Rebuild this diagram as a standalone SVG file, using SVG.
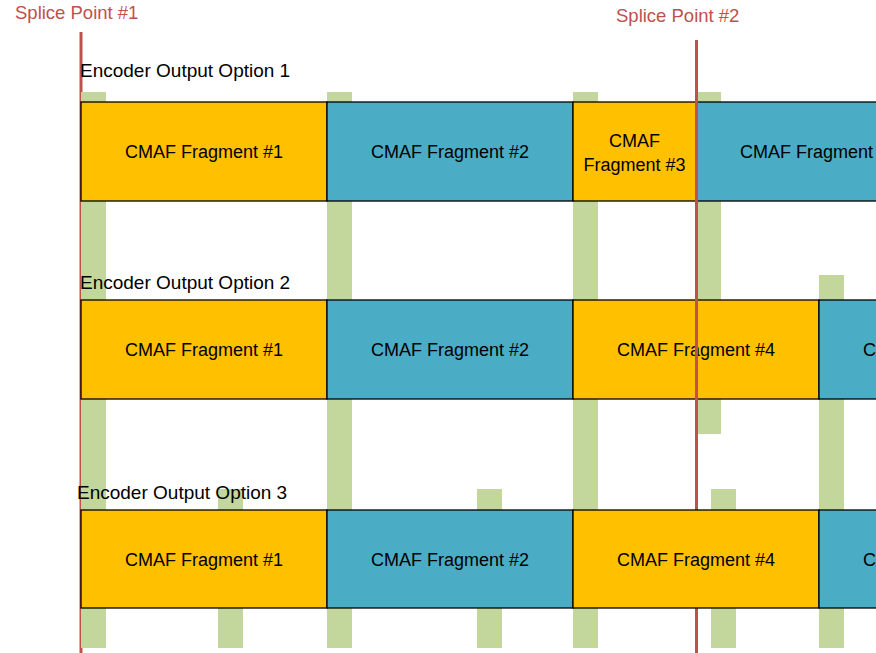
<svg xmlns="http://www.w3.org/2000/svg" width="876" height="653" viewBox="0 0 876 653">
<style>
.bar{fill:#C3D69B}
.or{fill:#FFC000;stroke:#000;stroke-width:1.3}
.bl{fill:#4BACC6;stroke:#000;stroke-width:1.3}
.t{font-family:"Liberation Sans",Arial,sans-serif;font-size:18px;fill:#000}
.c{text-anchor:middle}
.lbl{font-family:"Liberation Sans",Arial,sans-serif;font-size:19px;fill:#000}
.sp{font-family:"Liberation Sans",Arial,sans-serif;font-size:18.5px;fill:#C0504D}
.sl{stroke:#C0504D;fill:none;stroke-width:3}
</style>
<rect width="876" height="653" fill="#fff"/>
<g id="splice-line-1">
<line class="sl" x1="81" y1="32" x2="81" y2="653"/>
</g>
<g id="bars">
<rect class="bar" x="81" y="92" width="25" height="556"/>
<rect class="bar" x="327" y="92" width="25" height="556"/>
<rect class="bar" x="573" y="92" width="25" height="556"/>
<rect class="bar" x="696" y="92" width="25" height="342"/>
<rect class="bar" x="819" y="275" width="25" height="373"/>
<rect class="bar" x="218" y="489" width="25" height="159"/>
<rect class="bar" x="477" y="489" width="25" height="159"/>
<rect class="bar" x="711" y="489" width="25" height="159"/>
</g>
<text class="lbl" x="80" y="77">Encoder Output Option 1</text>
<text class="lbl" x="80" y="289">Encoder Output Option 2</text>
<text class="lbl" x="77" y="499">Encoder Output Option 3</text>
<g id="r1f1"><rect class="or" x="81" y="102" width="246" height="99"/><text class="t c" x="204" y="158">CMAF Fragment #1</text></g>
<g id="r1f2"><rect class="bl" x="327" y="102" width="246" height="99"/><text class="t c" x="450" y="158">CMAF Fragment #2</text></g>
<g id="r1f3"><rect class="or" x="573" y="102" width="123" height="99"/><text class="t c" x="634.5" y="147">CMAF</text><text class="t c" x="634.5" y="171">Fragment #3</text></g>
<g id="r1f4"><rect class="bl" x="696" y="102" width="246" height="99"/><text class="t c" x="819" y="158">CMAF Fragment #4</text></g>
<g id="r2f1"><rect class="or" x="81" y="300" width="246" height="99"/><text class="t c" x="204" y="356">CMAF Fragment #1</text></g>
<g id="r2f2"><rect class="bl" x="327" y="300" width="246" height="99"/><text class="t c" x="450" y="356">CMAF Fragment #2</text></g>
<g id="r2f4"><rect class="or" x="573" y="300" width="246" height="99"/><text class="t c" x="696" y="356">CMAF Fragment #4</text></g>
<g id="r2f5"><rect class="bl" x="819" y="300" width="246" height="99"/><text class="t c" x="942" y="356">CMAF Fragment #5</text></g>
<g id="splice-line-2">
<line class="sl" x1="696.5" y1="40" x2="696.5" y2="653"/>
</g>
<g id="r3f1"><rect class="or" x="81" y="510" width="246" height="98"/><text class="t c" x="204" y="566">CMAF Fragment #1</text></g>
<g id="r3f2"><rect class="bl" x="327" y="510" width="246" height="98"/><text class="t c" x="450" y="566">CMAF Fragment #2</text></g>
<g id="r3f4"><rect class="or" x="573" y="510" width="246" height="98"/><text class="t c" x="696" y="566">CMAF Fragment #4</text></g>
<g id="r3f5"><rect class="bl" x="819" y="510" width="246" height="98"/><text class="t c" x="942" y="566">CMAF Fragment #5</text></g>
<g id="splice1"><text class="sp" x="15" y="19">Splice Point #1</text></g>
<g id="splice2"><text class="sp" x="616" y="22">Splice Point #2</text></g>
</svg>
